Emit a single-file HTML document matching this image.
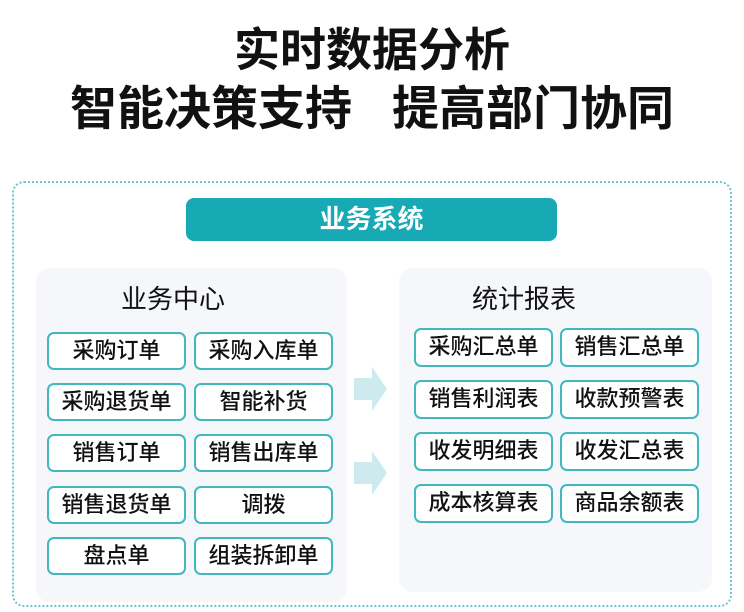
<!DOCTYPE html>
<html><head><meta charset="utf-8"><style>
*{margin:0;padding:0;box-sizing:border-box}
body{width:744px;height:612px;background:#fff;position:relative;overflow:hidden;font-family:"Liberation Sans","Noto Sans CJK SC",sans-serif;color:#111}
.t{position:absolute;left:0;width:744px;text-align:center;font-weight:bold;font-size:46px;line-height:52px}
.frame{position:absolute;left:12px;top:181px;width:720px;height:426px;border:2px dotted #6cc5cc;border-radius:12px}
.hdr{position:absolute;left:186px;top:198px;width:371px;height:43px;background:#17a9b4;border-radius:8px;color:#fff;font-weight:bold;font-size:26px;line-height:43px;text-align:center}
.panel{position:absolute;background:#f5f7fb;border-radius:14px}
.pt{position:absolute;font-size:26px;line-height:30px;text-align:center}
.b{position:absolute;width:139px;height:38px;border:2px solid #42b8bc;border-radius:7px;background:#fff;font-size:22px;line-height:34px;text-align:center;font-weight:500}
</style></head><body>
<div class="t" style="top:24px">实时数据分析</div>
<div class="t" style="top:83px;font-size:47px">智能决策支持<span style="display:inline-block;width:40px"></span>提高部门协同</div>
<div class="frame"></div>
<div class="hdr">业务系统</div>
<div class="panel" style="left:36px;top:268px;width:311px;height:334px"></div>
<div class="panel" style="left:399px;top:268px;width:313px;height:324px"></div>
<div class="pt" style="left:36px;width:274px;top:284px">业务中心</div>
<div class="pt" style="left:399px;width:250px;top:284px">统计报表</div>
<svg style="position:absolute;left:350px;top:360px" width="40" height="150">
<polygon points="4,18 22,18 22,7 37,29 22,51 22,40 4,40" fill="#cdeaef"/>
<polygon points="4,102 22,102 22,91 37,113 22,135 22,124 4,124" fill="#cdeaef"/>
</svg>
<div class="b" style="left:47px;top:332px">采购订单</div>
<div class="b" style="left:194px;top:332px">采购入库单</div>
<div class="b" style="left:47px;top:383px">采购退货单</div>
<div class="b" style="left:194px;top:383px">智能补货</div>
<div class="b" style="left:47px;top:434px">销售订单</div>
<div class="b" style="left:194px;top:434px">销售出库单</div>
<div class="b" style="left:47px;top:486px">销售退货单</div>
<div class="b" style="left:194px;top:486px">调拨</div>
<div class="b" style="left:47px;top:537px">盘点单</div>
<div class="b" style="left:194px;top:537px">组装拆卸单</div>
<div class="b" style="left:414px;top:328px;height:39px">采购汇总单</div>
<div class="b" style="left:560px;top:328px;height:39px">销售汇总单</div>
<div class="b" style="left:414px;top:380px;height:39px">销售利润表</div>
<div class="b" style="left:560px;top:380px;height:39px">收款预警表</div>
<div class="b" style="left:414px;top:432px;height:39px">收发明细表</div>
<div class="b" style="left:560px;top:432px;height:39px">收发汇总表</div>
<div class="b" style="left:414px;top:484px;height:39px">成本核算表</div>
<div class="b" style="left:560px;top:484px;height:39px">商品余额表</div>
</body></html>
